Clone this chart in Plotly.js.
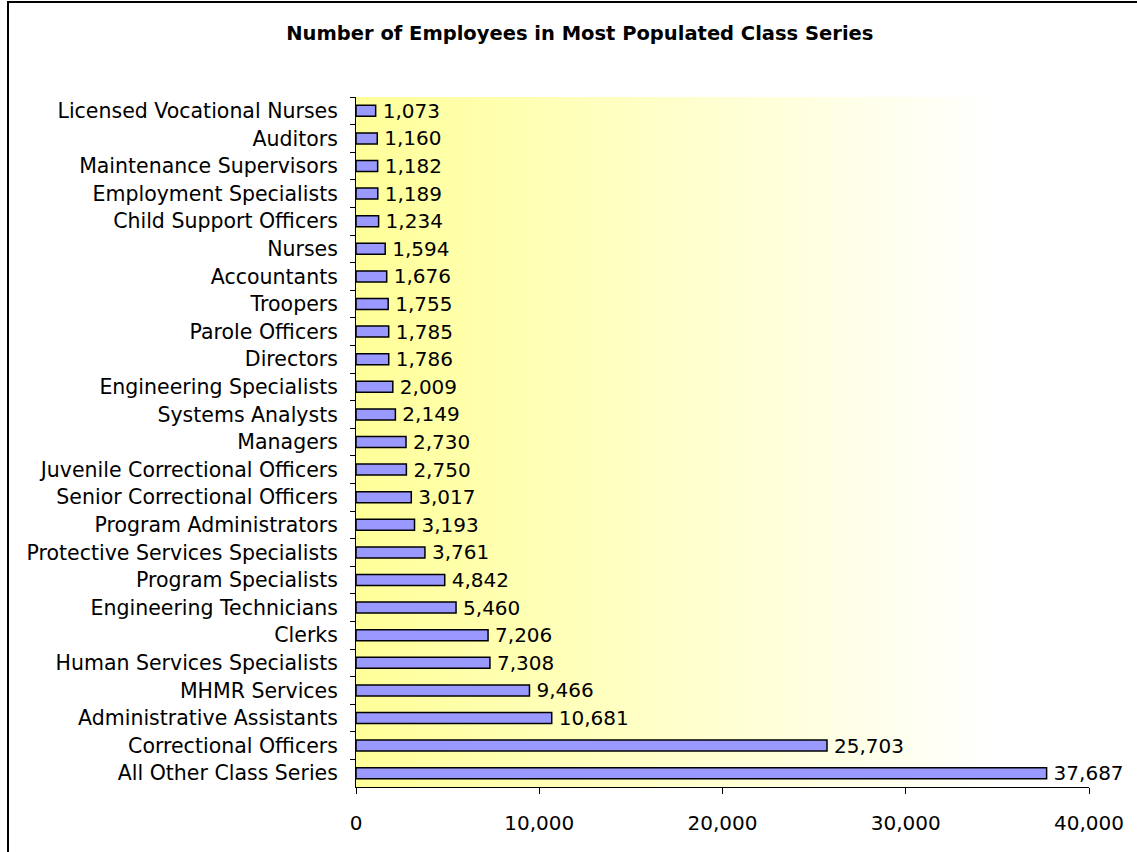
<!DOCTYPE html>
<html>
<head>
<meta charset="utf-8">
<script src="https://cdn.plot.ly/plotly-3.0.1.min.js"></script>
<style>
  html, body { margin: 0; padding: 0; background: #fff; }
  #wrap { position: relative; width: 1137px; height: 852px; overflow: hidden; }
  #chart { position: absolute; left: 0; top: 0; width: 1137px; height: 852px; }
  #frame { position: absolute; left: 7px; top: 1px; width: 1200px; height: 900px;
           border-left: 2px solid #000; border-top: 2px solid #000; pointer-events: none; }
</style>
</head>
<body>
<div id="wrap">
  <div id="chart"></div>
  <div id="frame"></div>
</div>
<script>
const categories = [
  "Licensed Vocational Nurses", "Auditors", "Maintenance Supervisors",
  "Employment Specialists", "Child Support Officers", "Nurses", "Accountants",
  "Troopers", "Parole Officers", "Directors", "Engineering Specialists",
  "Systems Analysts", "Managers", "Juvenile Correctional Officers",
  "Senior Correctional Officers", "Program Administrators",
  "Protective Services Specialists", "Program Specialists",
  "Engineering Technicians", "Clerks", "Human Services Specialists",
  "MHMR Services", "Administrative Assistants", "Correctional Officers",
  "All Other Class Series"
];
const employees = [
  1073, 1160, 1182, 1189, 1234, 1594, 1676, 1755, 1785, 1786, 2009, 2149,
  2730, 2750, 3017, 3193, 3761, 4842, 5460, 7206, 7308, 9466, 10681, 25703, 37687
];
const xTicks = [0, 10000, 20000, 30000, 40000];
const chartTitle = "Number of Employees in Most Populated Class Series";

const FONT = "DejaVu Sans, Verdana, sans-serif";

const gradSvg = '<svg xmlns="http://www.w3.org/2000/svg" width="100" height="100" preserveAspectRatio="none">' +
  '<defs><linearGradient id="g" x1="0" y1="0" x2="1" y2="0">' +
  '<stop offset="0" stop-color="#FFFF99"/><stop offset="0.88" stop-color="#FFFFFF"/>' +
  '<stop offset="1" stop-color="#FFFFFF"/></linearGradient></defs>' +
  '<rect width="100" height="100" fill="url(#g)"/></svg>';

const trace = {
  type: "bar",
  orientation: "h",
  x: employees,
  y: categories,
  marker: { color: "#9999FF", line: { color: "#000", width: 1.5 } },
  texttemplate: "\u2009%{x:,}",
  textposition: "outside",
  constraintext: "none",
  cliponaxis: false,
  textfont: { family: FONT, size: 20, color: "#000" },
  hoverinfo: "skip"
};

const layout = {
  width: 1137, height: 852,
  margin: { l: 356, r: 48, t: 97, b: 65 },
  paper_bgcolor: "#fff",
  plot_bgcolor: "rgba(0,0,0,0)",
  showlegend: false,
  bargap: 0.6,
  font: { family: FONT, color: "#000" },
  title: {
    text: chartTitle,
    font: { family: FONT, size: 19.5, color: "#000", weight: "bold" },
    x: 0.51, xref: "container", xanchor: "center",
    y: 1 - 33 / 852, yref: "container", yanchor: "middle"
  },
  xaxis: {
    range: [0, 40000],
    tickvals: xTicks,
    tickformat: ",d",
    ticks: "outside", ticklen: 6, tickcolor: "#000", tickwidth: 1,
    showline: true, linecolor: "#000", linewidth: 1,
    showgrid: false, zeroline: false,
    tickfont: { family: FONT, size: 20, color: "#000" },
    ticklabelstandoff: 12,
    fixedrange: true
  },
  yaxis: {
    type: "category",
    autorange: "reversed",
    ticks: "outside", ticklen: 5, tickcolor: "#000", tickwidth: 1,
    tickson: "boundaries",
    showline: true, linecolor: "#000", linewidth: 1,
    showgrid: false, zeroline: false,
    tickfont: { family: FONT, size: 20.5, color: "#000" },
    ticklabelstandoff: 13,
    fixedrange: true
  },
  images: [{
    source: "data:image/svg+xml;charset=utf-8," + encodeURIComponent(gradSvg),
    xref: "paper", yref: "paper", x: 0, y: 1, sizex: 1, sizey: 1,
    xanchor: "left", yanchor: "top", sizing: "stretch", layer: "below"
  }]
};

Plotly.newPlot("chart", [trace], layout, { displayModeBar: false, staticPlot: true });
</script>
</body>
</html>
